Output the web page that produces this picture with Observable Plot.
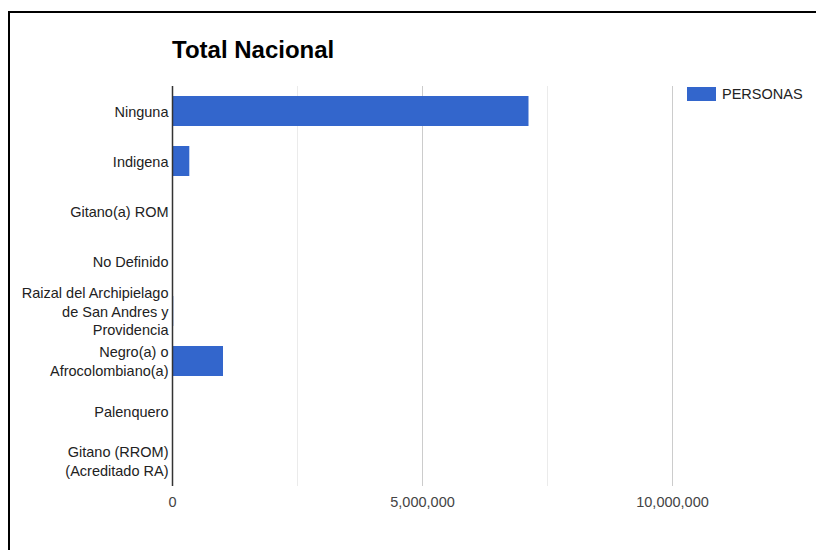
<!DOCTYPE html>
<html>
<head>
<meta charset="utf-8">
<script src="https://cdn.jsdelivr.net/npm/d3@7"></script>
<script src="https://cdn.jsdelivr.net/npm/@observablehq/plot@0.6"></script>
<style>
  html, body { margin: 0; padding: 0; background: #fff; overflow: hidden; }
  body { width: 816px; height: 550px; position: relative; font-family: Arial, "Liberation Sans", sans-serif; }
  #hline { position: absolute; left: 8px; top: 11px; width: 808px; height: 2px; background: #000; }
  #vline { position: absolute; left: 8px; top: 11px; width: 2px; height: 539px; background: #000; }
  #chart { position: absolute; left: 0; top: 0; }
  #title { position: absolute; left: 172px; top: 36px; font-size: 24px; font-weight: bold; color: #000; white-space: nowrap; }
  #legend { position: absolute; left: 687px; top: 86px; display: flex; align-items: center; font-size: 14.5px; color: #222; }
  #legend .sw { width: 29px; height: 14px; background: #3366cc; margin-right: 6px; }
</style>
</head>
<body>
<div id="hline"></div>
<div id="vline"></div>
<div id="chart"></div>
<div id="title">Total Nacional</div>
<div id="legend"><div class="sw"></div><span>PERSONAS</span></div>
<script>
const categories = [
  "Ninguna",
  "Indigena",
  "Gitano(a) ROM",
  "No Definido",
  "Raizal del Archipielago\nde San Andres y\nProvidencia",
  "Negro(a) o\nAfrocolombiano(a)",
  "Palenquero",
  "Gitano (RROM)\n(Acreditado RA)"
];
const personas = [7130000, 346000, 2600, 9000, 25000, 1020000, 7000, 2000];
const seriesName = "PERSONAS";
const majorTicks = [0, 5000000, 10000000];
const minorGrid = [2500000, 7500000];
const majorGrid = [5000000, 10000000];

const data = categories.map((c, i) => ({category: c, value: personas[i]}));

const chart = Plot.plot({
  width: 816,
  height: 550,
  marginLeft: 172,
  marginRight: 144,
  marginTop: 86,
  marginBottom: 64,
  style: {fontFamily: "Arial, 'Liberation Sans', sans-serif", fontSize: "14.5px", background: "transparent"},
  x: {domain: [0, 10000000], label: null},
  y: {domain: categories, paddingInner: 0.4, paddingOuter: 0.2, label: null},
  marks: [
    Plot.ruleX(minorGrid, {stroke: "#ebebeb", strokeWidth: 1, strokeOpacity: 1}),
    Plot.ruleX(majorGrid, {stroke: "#cccccc", strokeWidth: 1, strokeOpacity: 1}),
    Plot.barX(data, {y: "category", x: "value", fill: "#3366cc"}),
    Plot.ruleX([0], {stroke: "#333333", strokeWidth: 1.5}),
    Plot.axisX(majorTicks, {tickSize: 0, tickPadding: 10, tickFormat: d3.format(","), fill: "#444", fontSize: 14.5, label: null}),
    Plot.axisY({tickSize: 0, tickPadding: 4, dy: -1, fill: "#222", fontSize: 14.5, lineHeight: 1.3, textAnchor: "end", label: null})
  ]
});
document.getElementById("chart").appendChild(chart);
</script>
</body>
</html>
